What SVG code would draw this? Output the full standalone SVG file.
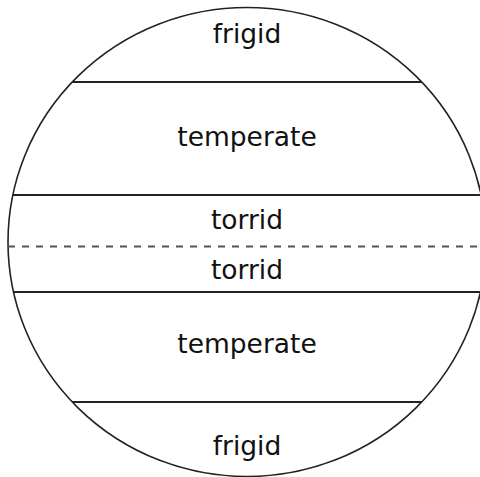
<svg xmlns="http://www.w3.org/2000/svg" width="480" height="477" viewBox="0 0 480 477">
<style>
.lbl{font-family:"DejaVu Sans",Verdana,sans-serif;font-size:26.5px;fill:#111;text-anchor:middle}
.zl{stroke:#222;stroke-width:2;fill:none}
.eq{stroke:#555;stroke-width:2;stroke-dasharray:7 7;fill:none}
</style>
<rect width="480" height="477" fill="#fff"/>
<g id="globe">
<ellipse cx="247" cy="242" rx="239" ry="234.5" fill="#fff" stroke="#222" stroke-width="1.6"/>
</g>
<g id="connectors">
<line class="zl" x1="72.3" y1="82" x2="421.7" y2="82"/>
<line class="zl" x1="12.9" y1="195" x2="481" y2="195"/>
<line class="eq" x1="8" y1="246.5" x2="486" y2="246.5"/>
<line class="zl" x1="13.5" y1="292" x2="480.5" y2="292"/>
<line class="zl" x1="72.3" y1="402" x2="421.7" y2="402"/>
</g>
<g id="frigid-north"><text class="lbl" x="247" y="43">frigid</text></g>
<g id="temperate-north"><text class="lbl" x="247" y="146">temperate</text></g>
<g id="torrid-north"><text class="lbl" x="247" y="229">torrid</text></g>
<g id="torrid-south"><text class="lbl" x="247" y="279">torrid</text></g>
<g id="temperate-south"><text class="lbl" x="247" y="353">temperate</text></g>
<g id="frigid-south"><text class="lbl" x="247" y="455">frigid</text></g>
</svg>
